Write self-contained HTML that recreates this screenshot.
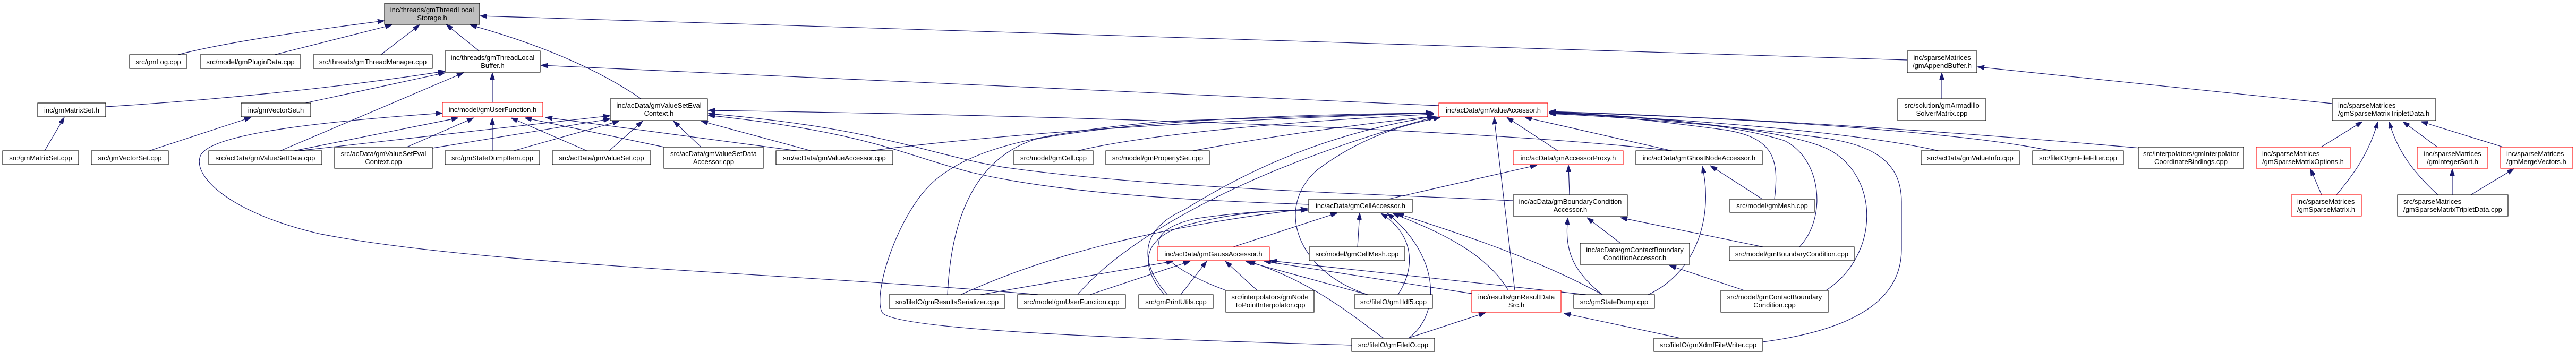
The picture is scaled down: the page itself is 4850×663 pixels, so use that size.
<!DOCTYPE html>
<html>
<head>
<meta charset="utf-8">
<style>
html,body{margin:0;padding:0;background:#fff;}
svg{display:block;}
text{font-family:"Liberation Sans",Arial,sans-serif;font-size:13px;fill:#000;}
.n{fill:#fff;stroke:#000;stroke-width:1.1;}
.r{fill:#fff;stroke:#ff0000;stroke-width:1.1;}
.g{fill:#bfbfbf;stroke:#000;stroke-width:1.1;}
.e{fill:none;stroke:#191970;stroke-width:1.15;marker-end:url(#ah);}
</style>
</head>
<body>
<svg width="4850" height="663" viewBox="0 0 4850 663" xmlns="http://www.w3.org/2000/svg">
<defs>
<marker id="ah" viewBox="0 0 13 9" refX="13" refY="4.5" markerWidth="13" markerHeight="9" orient="auto" markerUnits="userSpaceOnUse">
<path d="M0,0L13,4.5L0,9z" fill="#191970" stroke="#191970" stroke-width="0.8"/>
</marker>
</defs>
<rect width="4850" height="663" fill="#fff"/>

<!-- edges -->
<g>
<path class="e" d="M335,103 C430,78 600,55 724,39"/>
<path class="e" d="M517,103 L738,47"/>
<path class="e" d="M717,103 L790,47"/>
<path class="e" d="M902,96 L840,46"/>
<path class="e" d="M1207,186 C1140,140 1040,90 885,47"/>
<path class="e" d="M3591,113 L904,30"/>
<path class="e" d="M199,201 C380,190 620,168 838,134"/>
<path class="e" d="M575,194 L838,137"/>
<path class="e" d="M528,284 L873,137"/>
<path class="e" d="M927,193 L927,137"/>
<path class="e" d="M2709,199 L1018,123"/>
<path class="e" d="M1955,555 C1500,515 900,500 600,440 C430,400 360,330 378,292 C400,250 620,228 833,213"/>
<path class="e" d="M554,284 L863,222"/>
<path class="e" d="M766,277 L892,222"/>
<path class="e" d="M927,284 L927,222"/>
<path class="e" d="M1105,284 L962,222"/>
<path class="e" d="M1250,277 L988,222"/>
<path class="e" d="M1500,284 L1027,221"/>
<path class="e" d="M562,284 L1149,218"/>
<path class="e" d="M814,279 L1149,224"/>
<path class="e" d="M967,284 L1166,228"/>
<path class="e" d="M1147,284 L1210,228"/>
<path class="e" d="M1320,277 L1268,228"/>
<path class="e" d="M1527,284 L1320,228"/>
<path class="e" d="M3148,284 C2900,255 2300,222 1333,208"/>
<path class="e" d="M2849,378 C2500,362 2150,352 1890,315 C1750,292 1650,240 1333,214"/>
<path class="e" d="M2464,385 C2250,378 2000,365 1830,325 C1700,292 1640,250 1333,217"/>
<path class="e" d="M2614,375 L2894,311"/>
<path class="e" d="M2955,367 L2953,311"/>
<path class="e" d="M2933,284 L2837,221"/>
<path class="e" d="M3148,284 L2871,221"/>
<path class="e" d="M2852,547 L2813,221"/>
<path class="e" d="M2322,465 L2518,401"/>
<path class="e" d="M2556,465 L2560,401"/>
<path class="e" d="M2632,555 C2668,500 2660,440 2600,402"/>
<path class="e" d="M2652,637 C2715,590 2710,480 2612,402"/>
<path class="e" d="M2840,547 C2800,480 2720,440 2622,402"/>
<path class="e" d="M3017,555 C2900,490 2750,440 2630,402"/>
<path class="e" d="M2771,553 L2380,492"/>
<path class="e" d="M2986,555 L2391,491"/>
<path class="e" d="M2575,555 L2345,492"/>
<path class="e" d="M2605,637 C2540,590 2470,530 2350,492"/>
<path class="e" d="M2223,555 L2272,492"/>
<path class="e" d="M2368,548 L2307,492"/>
<path class="e" d="M2052,555 L2241,492"/>
<path class="e" d="M1846,555 L2209,492"/>
<path class="e" d="M1784,555 C1790,420 1830,300 1950,262 C2150,225 2450,215 2700,213"/>
<path class="e" d="M1809,555 C1950,490 2150,430 2462,393"/>
<path class="e" d="M2545,650 C2200,640 1700,625 1662,590 C1640,560 1690,400 1760,340 C1830,280 1950,250 2200,228 L2698,212"/>
<path class="e" d="M2198,555 C2140,490 2150,430 2230,395 C2350,320 2500,250 2702,219"/>
<path class="e" d="M2192,555 C2145,500 2150,450 2230,425 C2320,400 2400,396 2462,396"/>
<path class="e" d="M2029,555 C2100,470 2300,330 2702,220"/>
<path class="e" d="M2029,284 C2150,255 2400,230 2700,215"/>
<path class="e" d="M2246,284 C2400,255 2550,235 2700,219"/>
<path class="e" d="M1639,284 C1900,250 2300,225 2700,213"/>
<path class="e" d="M2575,555 C2440,510 2400,390 2480,320 C2560,260 2640,235 2712,221"/>
<path class="e" d="M2311,548 C2180,500 2130,440 2250,412 C2330,400 2400,396 2462,395"/>
<path class="e" d="M84,284 L121,221"/>
<path class="e" d="M281,284 L473,221"/>
<path class="e" d="M2651,637 L2797,589"/>
<path class="e" d="M3164,637 L2944,590"/>
<path class="e" d="M3017,555 C2960,510 2945,470 2952,410"/>
<path class="e" d="M3051,458 L2988,410"/>
<path class="e" d="M3319,465 L3051,410"/>
<path class="e" d="M3103,555 C3200,510 3225,400 3205,313"/>
<path class="e" d="M3318,375 L3220,312"/>
<path class="e" d="M3284,547 L3143,500"/>
<path class="e" d="M3341,375 C3350,300 3340,260 3250,245 C3100,225 3000,215 2916,210"/>
<path class="e" d="M3388,465 C3440,410 3430,300 3360,265 C3250,230 3050,216 2916,212"/>
<path class="e" d="M3438,547 C3540,480 3540,330 3440,280 C3350,240 3100,220 2916,213"/>
<path class="e" d="M3319,644 C3500,620 3580,560 3580,470 L3580,380 C3580,300 3520,270 3420,258 C3250,236 3050,220 2916,214"/>
<path class="e" d="M3650,284 C3500,250 3200,226 2916,212"/>
<path class="e" d="M3862,284 C3700,250 3300,222 2916,211"/>
<path class="e" d="M4030,279 C3700,250 3300,222 2916,210"/>
<path class="e" d="M3656,186 L3656,137"/>
<path class="e" d="M4391,195 L3723,126"/>
<path class="e" d="M4370,277 L4448,229"/>
<path class="e" d="M4399,367 C4430,330 4460,290 4477,229"/>
<path class="e" d="M4590,367 C4550,330 4515,290 4498,229"/>
<path class="e" d="M4589,277 L4524,229"/>
<path class="e" d="M4713,277 L4558,229"/>
<path class="e" d="M4371,367 L4350,318"/>
<path class="e" d="M4617,367 L4617,318"/>
<path class="e" d="M4652,367 L4733,318"/>
</g>

<!-- nodes -->
<g>
<rect class="g" x="724" y="6" width="179" height="40"/>
<text x="813.5" y="23" text-anchor="middle">inc/threads/gmThreadLocal</text>
<text x="813.5" y="38" text-anchor="middle">Storage.h</text>

<rect class="n" x="244" y="103" width="108" height="26"/>
<text x="298" y="121" text-anchor="middle">src/gmLog.cpp</text>
<rect class="n" x="377" y="103" width="189" height="26"/>
<text x="471.5" y="121" text-anchor="middle">src/model/gmPluginData.cpp</text>
<rect class="n" x="590" y="103" width="224" height="26"/>
<text x="702" y="121" text-anchor="middle">src/threads/gmThreadManager.cpp</text>

<rect class="n" x="838" y="96" width="179" height="40"/>
<text x="927.5" y="113" text-anchor="middle">inc/threads/gmThreadLocal</text>
<text x="927.5" y="128" text-anchor="middle">Buffer.h</text>

<rect class="n" x="71" y="194" width="128" height="26"/>
<text x="135" y="212" text-anchor="middle">inc/gmMatrixSet.h</text>
<rect class="n" x="454" y="194" width="131" height="26"/>
<text x="519.5" y="212" text-anchor="middle">inc/gmVectorSet.h</text>
<rect class="r" x="833" y="193" width="189" height="27"/>
<text x="927.5" y="211" text-anchor="middle">inc/model/gmUserFunction.h</text>
<rect class="n" x="1149" y="186" width="183" height="41"/>
<text x="1240.5" y="203" text-anchor="middle">inc/acData/gmValueSetEval</text>
<text x="1240.5" y="218" text-anchor="middle">Context.h</text>

<rect class="n" x="5" y="284" width="143" height="26"/>
<text x="76.5" y="302" text-anchor="middle">src/gmMatrixSet.cpp</text>
<rect class="n" x="172" y="284" width="145" height="26"/>
<text x="244.5" y="302" text-anchor="middle">src/gmVectorSet.cpp</text>
<rect class="n" x="393" y="284" width="213" height="26"/>
<text x="499.5" y="302" text-anchor="middle">src/acData/gmValueSetData.cpp</text>
<rect class="n" x="630" y="277" width="184" height="40"/>
<text x="722" y="294" text-anchor="middle">src/acData/gmValueSetEval</text>
<text x="722" y="309" text-anchor="middle">Context.cpp</text>
<rect class="n" x="838" y="284" width="178" height="26"/>
<text x="927" y="302" text-anchor="middle">src/gmStateDumpItem.cpp</text>
<rect class="n" x="1040" y="284" width="185" height="26"/>
<text x="1132.5" y="302" text-anchor="middle">src/acData/gmValueSet.cpp</text>
<rect class="n" x="1250" y="277" width="187" height="40"/>
<text x="1343.5" y="294" text-anchor="middle">src/acData/gmValueSetData</text>
<text x="1343.5" y="309" text-anchor="middle">Accessor.cpp</text>
<rect class="n" x="1461" y="284" width="220" height="26"/>
<text x="1571" y="302" text-anchor="middle">src/acData/gmValueAccessor.cpp</text>
<rect class="n" x="1909" y="284" width="149" height="26"/>
<text x="1983.5" y="302" text-anchor="middle">src/model/gmCell.cpp</text>
<rect class="n" x="2082" y="284" width="195" height="26"/>
<text x="2179.5" y="302" text-anchor="middle">src/model/gmPropertySet.cpp</text>

<rect class="r" x="2709" y="194" width="205" height="26"/>
<text x="2811.5" y="212" text-anchor="middle">inc/acData/gmValueAccessor.h</text>
<rect class="r" x="2849" y="284" width="207" height="26"/>
<text x="2952.5" y="302" text-anchor="middle">inc/acData/gmAccessorProxy.h</text>
<rect class="n" x="3080" y="284" width="238" height="26"/>
<text x="3199" y="302" text-anchor="middle">inc/acData/gmGhostNodeAccessor.h</text>
<rect class="n" x="3617" y="284" width="185" height="26"/>
<text x="3709.5" y="302" text-anchor="middle">src/acData/gmValueInfo.cpp</text>
<rect class="n" x="3827" y="284" width="171" height="26"/>
<text x="3912.5" y="302" text-anchor="middle">src/fileIO/gmFileFilter.cpp</text>
<rect class="n" x="4026" y="277" width="198" height="40"/>
<text x="4125" y="294" text-anchor="middle">src/interpolators/gmInterpolator</text>
<text x="4125" y="309" text-anchor="middle">CoordinateBindings.cpp</text>

<rect class="n" x="3591" y="96" width="131" height="41"/>
<text x="3656.5" y="113" text-anchor="middle">inc/sparseMatrices</text>
<text x="3656.5" y="128" text-anchor="middle">/gmAppendBuffer.h</text>
<rect class="n" x="3573" y="186" width="166" height="41"/>
<text x="3656" y="203" text-anchor="middle">src/solution/gmArmadillo</text>
<text x="3656" y="218" text-anchor="middle">SolverMatrix.cpp</text>

<rect class="n" x="4391" y="186" width="195" height="41"/>
<text x="4402" y="203">inc/sparseMatrices</text>
<text x="4402" y="218">/gmSparseMatrixTripletData.h</text>
<rect class="r" x="4248" y="277" width="177" height="40"/>
<text x="4259" y="294">inc/sparseMatrices</text>
<text x="4259" y="309">/gmSparseMatrixOptions.h</text>
<rect class="r" x="4551" y="277" width="133" height="40"/>
<text x="4617.5" y="294" text-anchor="middle">inc/sparseMatrices</text>
<text x="4617.5" y="309" text-anchor="middle">/gmIntegerSort.h</text>
<rect class="r" x="4708" y="277" width="136" height="40"/>
<text x="4719" y="294">inc/sparseMatrices</text>
<text x="4719" y="309">/gmMergeVectors.h</text>
<rect class="r" x="4314" y="367" width="132" height="40"/>
<text x="4325" y="384">inc/sparseMatrices</text>
<text x="4325" y="399">/gmSparseMatrix.h</text>
<rect class="n" x="4514" y="367" width="208" height="40"/>
<text x="4525" y="384">src/sparseMatrices</text>
<text x="4525" y="399">/gmSparseMatrixTripletData.cpp</text>

<rect class="n" x="2464" y="375" width="195" height="25"/>
<text x="2561.5" y="392" text-anchor="middle">inc/acData/gmCellAccessor.h</text>
<rect class="n" x="2849" y="367" width="215" height="40"/>
<text x="2956.5" y="384" text-anchor="middle">inc/acData/gmBoundaryCondition</text>
<text x="2956.5" y="399" text-anchor="middle">Accessor.h</text>
<rect class="n" x="3257" y="375" width="159" height="25"/>
<text x="3336.5" y="392" text-anchor="middle">src/model/gmMesh.cpp</text>

<rect class="r" x="2179" y="465" width="211" height="26"/>
<text x="2284.5" y="483" text-anchor="middle">inc/acData/gmGaussAccessor.h</text>
<rect class="n" x="2465" y="465" width="180" height="26"/>
<text x="2555" y="483" text-anchor="middle">src/model/gmCellMesh.cpp</text>
<rect class="n" x="2975" y="458" width="206" height="40"/>
<text x="3078" y="475" text-anchor="middle">inc/acData/gmContactBoundary</text>
<text x="3078" y="490" text-anchor="middle">ConditionAccessor.h</text>
<rect class="n" x="3256" y="465" width="235" height="26"/>
<text x="3373.5" y="483" text-anchor="middle">src/model/gmBoundaryCondition.cpp</text>

<rect class="n" x="1674" y="555" width="218" height="26"/>
<text x="1783" y="573" text-anchor="middle">src/fileIO/gmResultsSerializer.cpp</text>
<rect class="n" x="1916" y="555" width="203" height="26"/>
<text x="2017.5" y="573" text-anchor="middle">src/model/gmUserFunction.cpp</text>
<rect class="n" x="2144" y="555" width="140" height="26"/>
<text x="2214" y="573" text-anchor="middle">src/gmPrintUtils.cpp</text>
<rect class="n" x="2308" y="547" width="166" height="41"/>
<text x="2391" y="564" text-anchor="middle">src/interpolators/gmNode</text>
<text x="2391" y="579" text-anchor="middle">ToPointInterpolator.cpp</text>
<rect class="n" x="2550" y="555" width="147" height="26"/>
<text x="2623.5" y="573" text-anchor="middle">src/fileIO/gmHdf5.cpp</text>
<rect class="r" x="2771" y="547" width="168" height="41"/>
<text x="2855" y="564" text-anchor="middle">inc/results/gmResultData</text>
<text x="2855" y="579" text-anchor="middle">Src.h</text>
<rect class="n" x="2963" y="555" width="152" height="26"/>
<text x="3039" y="573" text-anchor="middle">src/gmStateDump.cpp</text>
<rect class="n" x="3240" y="547" width="202" height="41"/>
<text x="3341" y="564" text-anchor="middle">src/model/gmContactBoundary</text>
<text x="3341" y="579" text-anchor="middle">Condition.cpp</text>

<rect class="n" x="2545" y="637" width="156" height="25"/>
<text x="2623" y="654" text-anchor="middle">src/fileIO/gmFileIO.cpp</text>
<rect class="n" x="3114" y="637" width="204" height="25"/>
<text x="3216" y="654" text-anchor="middle">src/fileIO/gmXdmfFileWriter.cpp</text>
</g>
</svg>
</body>
</html>
